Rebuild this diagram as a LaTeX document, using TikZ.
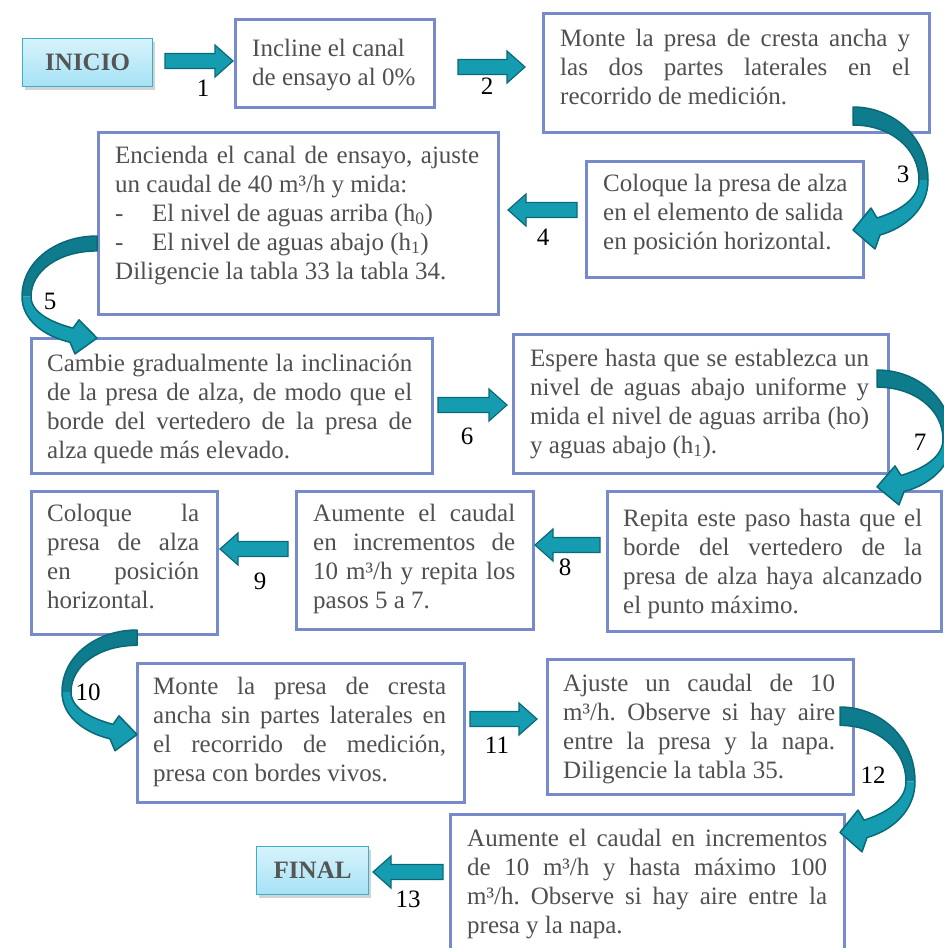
\documentclass[tikz,border=0pt]{standalone}
\usepackage{fontspec}
\setmainfont{Liberation Serif}
\usetikzlibrary{shadows}
\setlength\parindent{0pt}
\definecolor{boxborder}{RGB}{118,138,204}
\definecolor{txt}{RGB}{80,80,80}
\definecolor{arrfill}{RGB}{22,156,176}
\definecolor{arrdark}{RGB}{14,124,140}
\definecolor{arrline}{RGB}{10,105,120}
\definecolor{startborder}{RGB}{60,175,200}
\definecolor{starttop}{RGB}{215,243,252}
\definecolor{startbot}{RGB}{165,226,245}
\definecolor{starttxt}{RGB}{85,85,85}
\newcommand\normsp{\spaceskip=0pt\xspaceskip=0pt\frenchspacing\hyphenpenalty=10000\exhyphenpenalty=10000\relax}
\newcommand\jline[1]{\makebox[\hsize][s]{#1}}
\newcommand\barrow[3]{%
  \pgfmathsetmacro\hb{#2-18*sign(#2-#1)}%
  \draw[blockarrow] (#1,#3-7.5) -- (\hb,#3-7.5) -- (\hb,#3-16) -- (#2,#3) -- (\hb,#3+16) -- (\hb,#3+7.5) -- (#1,#3+7.5) -- cycle;}
\newcommand\carrow[4]{%
  \begin{scope}[shift={(#1,#2)}, xscale=#3, yscale=#4]
    \fill[arrdark] (0,0) .. controls (40,0) and (75,30) .. (75,73) -- (66,73) .. controls (66,42) and (38,18) .. (0,18) -- cycle;
    \fill[arrfill] (75,73) .. controls (75,102) and (52,121) .. (27,128) -- (22,142) -- (0,123) -- (18,101) -- (24,111) .. controls (46,104) and (66,92) .. (66,73) -- cycle;
    \draw[arrline, line width=1.5pt, line join=round] (0,0) .. controls (40,0) and (75,30) .. (75,73) .. controls (75,102) and (52,121) .. (27,128) -- (22,142) -- (0,123) -- (18,101) -- (24,111) .. controls (46,104) and (66,92) .. (66,73) .. controls (66,42) and (38,18) .. (0,18) -- cycle;
  \end{scope}}
\tikzset{
  stepbox/.style={draw=boxborder, line width=2.5pt, fill=white, anchor=north west, inner sep=0pt},
  steptext/.style={anchor=north west, inner sep=0pt, text=txt, font=\fontsize{25}{29}\selectfont, align=left},
  endbox/.style={draw=startborder, line width=1.2pt, top color=starttop, bottom color=startbot, text=starttxt,
    font=\bfseries\fontsize{25}{29}\selectfont, anchor=north west, inner sep=0pt,
    drop shadow={shadow xshift=2pt, shadow yshift=-3pt, opacity=0.35}},
  numlabel/.style={font=\fontsize{25}{29}\selectfont, text=black, inner sep=0pt},
  blockarrow/.style={fill=arrfill, draw=arrline, line width=1.2pt, line join=miter}
}
\begin{document}
\begin{tikzpicture}[x=1pt, y=-1pt]
\useasboundingbox (0,0) rectangle (944,948);
% boxes
\node[stepbox, minimum width=199pt, minimum height=88pt] (b2) at (234,18) {};
\node[stepbox, minimum width=386pt, minimum height=119pt] (b3) at (542,12) {};
\node[stepbox, minimum width=277pt, minimum height=116pt] (b4) at (585,160) {};
\node[stepbox, minimum width=400pt, minimum height=182pt] (b5) at (97,131) {};
\node[stepbox, minimum width=401pt, minimum height=135pt] (b6) at (30,337) {};
\node[stepbox, minimum width=375pt, minimum height=139pt] (b7) at (512,333) {};
\node[stepbox, minimum width=334pt, minimum height=140pt] (b8) at (606,490) {};
\node[stepbox, minimum width=237pt, minimum height=138pt] (b9) at (295,490) {};
\node[stepbox, minimum width=186pt, minimum height=143pt] (b10) at (30,490) {};
\node[stepbox, minimum width=327pt, minimum height=139pt] (b11) at (136,662) {};
\node[stepbox, minimum width=306pt, minimum height=135pt] (b12) at (546,658) {};
\node[stepbox, minimum width=394pt, minimum height=145pt] (b13) at (449,813) {};
% texts
\node[steptext, text width=170pt] (t2) at (252,35.7) {\normsp\strut Incline el canal\\de ensayo al 0\%};
\node[steptext, text width=350pt] (t3) at (560,25.7) {\normsp\strut\jline{Monte la presa de cresta ancha y}\\\jline{las dos partes laterales en el}\\recorrido de medición.};
\node[steptext, text width=250pt] (t4) at (603,170.7) {\normsp\strut Coloque la presa de alza\\en el elemento de salida\\en posición horizontal.};
\node[steptext, text width=364pt] (t5) at (115,142.7) {\normsp\strut\jline{Encienda el canal de ensayo, ajuste}\\un caudal de 40 m³/h y mida:\\\makebox[37pt][l]{-}El nivel de aguas arriba (h\textsubscript{0})\\\makebox[37pt][l]{-}El nivel de aguas abajo (h\textsubscript{1})\\Diligencie la tabla 33 la tabla 34.};
\node[steptext, text width=365pt] (t6) at (47,350.7) {\normsp\strut\jline{Cambie gradualmente la inclinación}\\\jline{de la presa de alza, de modo que el}\\\jline{borde del vertedero de la presa de}\\alza quede más elevado.};
\node[steptext, text width=339pt] (t7) at (530,345.7) {\normsp\strut\jline{Espere hasta que se establezca un}\\\jline{nivel de aguas abajo uniforme y}\\\jline{mida el nivel de aguas arriba (ho)}\\y aguas abajo (h\textsubscript{1}).};
\node[steptext, text width=299pt] (t8) at (623,505.7) {\normsp\strut\jline{Repita este paso hasta que el}\\\jline{borde del vertedero de la}\\\jline{presa de alza haya alcanzado}\\el punto máximo.};
\node[steptext, text width=202pt] (t9) at (313,500.7) {\normsp\strut\jline{Aumente el caudal}\\\jline{en incrementos de}\\\jline{10 m³/h y repita los}\\pasos 5 a 7.};
\node[steptext, text width=152pt] (t10) at (47,500.7) {\normsp\strut\jline{Coloque la}\\\jline{presa de alza}\\\jline{en posición}\\horizontal.};
\node[steptext, text width=293pt] (t11) at (153,673.7) {\normsp\strut\jline{Monte la presa de cresta}\\\jline{ancha sin partes laterales en}\\\jline{el recorrido de medición,}\\presa con bordes vivos.};
\node[steptext, text width=272pt] (t12) at (563,670.7) {\normsp\strut\jline{Ajuste un caudal de 10}\\\jline{m³/h. Observe si hay aire}\\\jline{entre la presa y la napa.}\\Diligencie la tabla 35.};
\node[steptext, text width=360pt] (t13) at (467,825.7) {\normsp\strut\jline{Aumente el caudal en incrementos}\\\jline{de 10 m³/h y hasta máximo 100}\\\jline{m³/h. Observe si hay aire entre la}\\presa y la napa.};
% start / end
\node[endbox, minimum width=130pt, minimum height=48pt] (inicio) at (22,38) {INICIO};
\node[endbox, minimum width=112pt, minimum height=48pt] (final) at (256,846) {FINAL};
% block arrows
\barrow{165}{233}{61}
\barrow{458}{525}{67}
\barrow{577}{508}{210}
\barrow{438}{507}{405}
\barrow{600}{535}{545}
\barrow{288}{220}{549}
\barrow{470}{537}{719}
\barrow{443}{373}{872}
% curved arrows
\carrow{853}{107}{1}{1}
\carrow{97}{236}{-1}{0.83}
\carrow{877}{370}{1}{0.95}
\carrow{137}{630}{-1}{0.85}
\carrow{840}{707}{1}{1.02}
% labels
\node[numlabel] (n1) at (203,88) {1};
\node[numlabel] (n2) at (487,86) {2};
\node[numlabel] (n3) at (903,174) {3};
\node[numlabel] (n4) at (543,237) {4};
\node[numlabel] (n5) at (50,301) {5};
\node[numlabel] (n6) at (467,436) {6};
\node[numlabel] (n7) at (920,442) {7};
\node[numlabel] (n8) at (565,567) {8};
\node[numlabel] (n9) at (260,581) {9};
\node[numlabel] (n10) at (88,692) {10};
\node[numlabel] (n11) at (497,745) {11};
\node[numlabel] (n12) at (873,775) {12};
\node[numlabel] (n13) at (408,899) {13};
\end{tikzpicture}
\end{document}
